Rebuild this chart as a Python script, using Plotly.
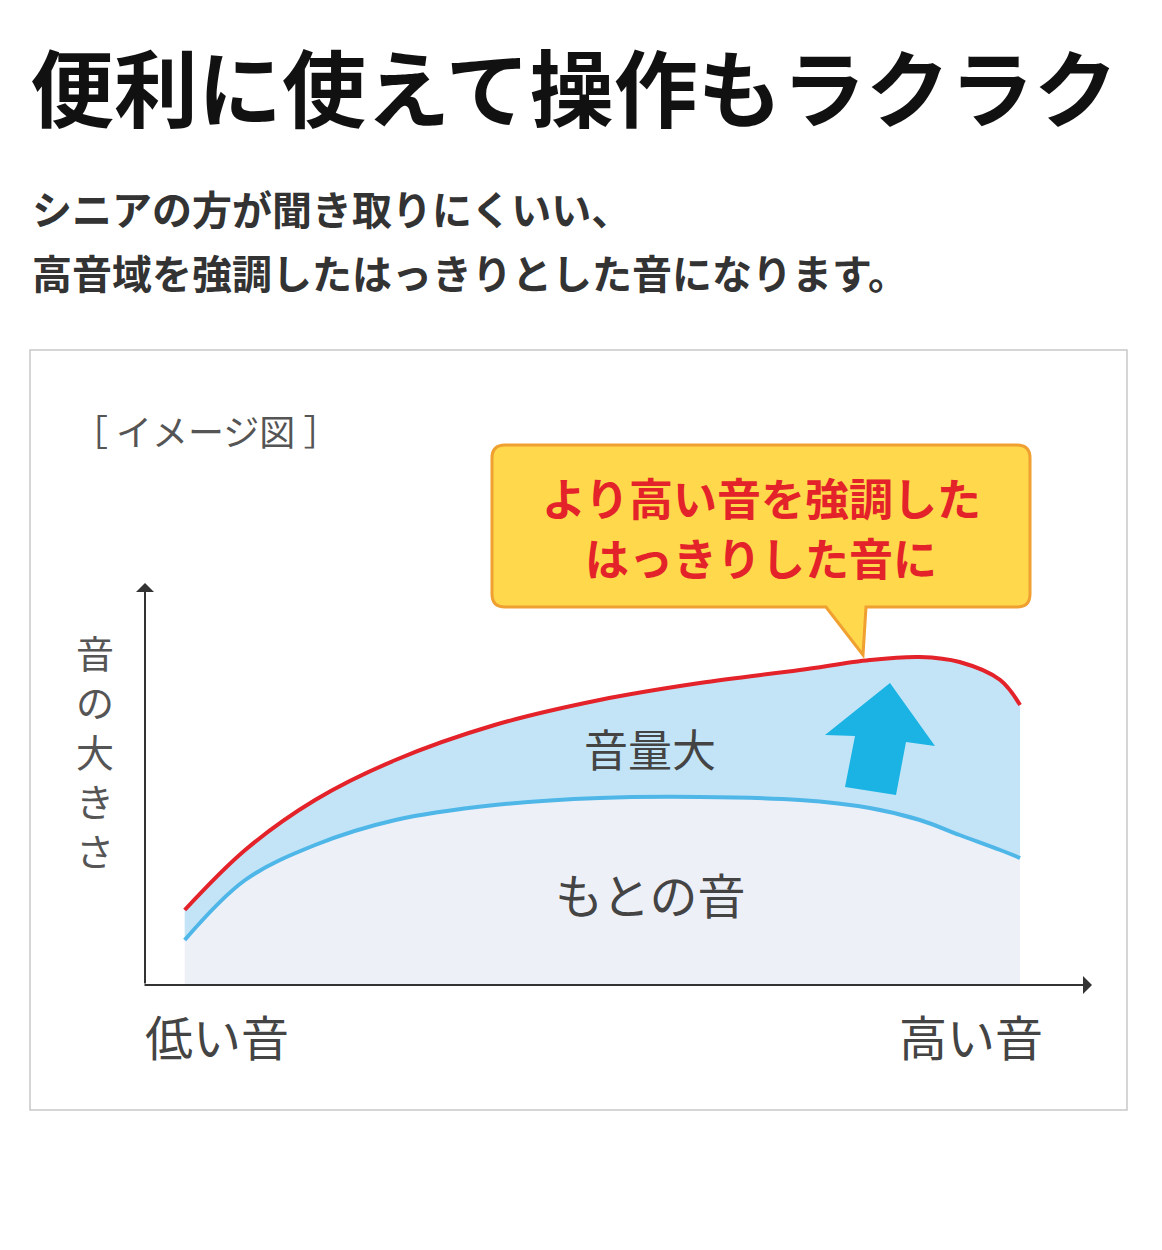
import plotly.graph_objects as go

W, H = 1162, 1250
FONT = "Noto Sans CJK JP"

# data (conceptual frequency index vs loudness)
freq = [4.2, 10.6, 18.0, 26.5, 37.0, 48.1, 58.7, 69.3, 76.7, 82.0, 86.2, 90.5, 92.6]
boosted = [18.75, 33.75, 46.25, 56.25, 65, 71.25, 75.5, 78.75, 81.25, 82, 80.75, 76.25, 70]
original = [11.25, 26.25, 35, 41.25, 45, 46.75, 47, 46.25, 44.25, 41.25, 37.5, 33.75, 31.75]

OFF = 8  # page body margin
def X(px): return (px - OFF) / W
def Y(py): return 1 - (py - OFF) / H

fig = go.Figure()
fig.add_trace(go.Scatter(x=freq, y=[0]*len(freq), mode="lines", line=dict(width=0), showlegend=False, hoverinfo="skip"))
fig.add_trace(go.Scatter(x=freq, y=original, mode="lines", fill="tonexty", fillcolor="#eef0f8",
                         line=dict(color="#4fb6e8", width=4, shape="spline"), showlegend=False))
fig.add_trace(go.Scatter(x=freq, y=boosted, mode="lines", fill="tonexty", fillcolor="#c3e4f7",
                         line=dict(color="#e3222a", width=4, shape="spline"), showlegend=False))

shapes = [
    dict(type="rect", xref="paper", yref="paper", x0=X(30), x1=X(1127), y0=Y(1110), y1=Y(350),
         line=dict(color="#c8c8c8", width=1.5), fillcolor="rgba(0,0,0,0)", layer="below"),
    dict(type="path", xref="paper", yref="paper",
         path=f"M{X(505)},{Y(445)} L{X(1017)},{Y(445)} Q{X(1030)},{Y(445)} {X(1030)},{Y(458)} "
              f"L{X(1030)},{Y(594)} Q{X(1030)},{Y(607)} {X(1017)},{Y(607)} L{X(866)},{Y(607)} "
              f"L{X(863)},{Y(655)} L{X(826)},{Y(607)} L{X(505)},{Y(607)} Q{X(492)},{Y(607)} {X(492)},{Y(594)} "
              f"L{X(492)},{Y(458)} Q{X(492)},{Y(445)} {X(505)},{Y(445)} Z",
         line=dict(color="#f0a030", width=3), fillcolor="#ffd84c"),
    dict(type="path", xref="paper", yref="paper",
         path=f"M{X(890)},{Y(683)} L{X(935)},{Y(746)} L{X(906)},{Y(742)} L{X(896)},{Y(795)} "
              f"L{X(845)},{Y(787)} L{X(855)},{Y(736)} L{X(825)},{Y(735)} Z",
         line=dict(width=0), fillcolor="#1ab3e3"),
]

ann = [
    dict(text="<b>便利に使えて操作もラクラク</b>", x=X(28), y=Y(85), xanchor="left", yanchor="middle",
         font=dict(size=84, color="#111")),
    dict(text="<b>シニアの方が聞き取りにくいい、</b>", x=X(30), y=Y(208), xanchor="left", yanchor="middle",
         font=dict(size=40, color="#333")),
    dict(text="<b>高音域を強調したはっきりとした音になります。</b>", x=X(30), y=Y(272), xanchor="left", yanchor="middle",
         font=dict(size=40, color="#333")),
    dict(text="［ イメージ図 ］", x=X(70), y=Y(430), xanchor="left", yanchor="middle",
         font=dict(size=36, color="#555")),
    dict(text="音<br>の<br>大<br>き<br>さ", x=X(95), y=Y(750), xanchor="center", yanchor="middle",
         font=dict(size=38, color="#555")),
    dict(text="低い音", x=X(143), y=Y(1035), xanchor="left", yanchor="middle", font=dict(size=48, color="#444")),
    dict(text="高い音", x=X(1045), y=Y(1035), xanchor="right", yanchor="middle", font=dict(size=48, color="#444")),
    dict(text="音量大", x=X(650), y=Y(748), xanchor="center", yanchor="middle", font=dict(size=44, color="#444")),
    dict(text="もとの音", x=X(650), y=Y(893), xanchor="center", yanchor="middle", font=dict(size=48, color="#444")),
    dict(text="<b>より高い音を強調した</b>", x=X(761), y=Y(497), xanchor="center", yanchor="middle",
         font=dict(size=44, color="#e3222a")),
    dict(text="<b>はっきりした音に</b>", x=X(761), y=Y(557), xanchor="center", yanchor="middle",
         font=dict(size=44, color="#e3222a")),
    # axes arrows
    dict(x=X(145), y=Y(583), xref="paper", yref="paper", ax=0, ay=402, showarrow=True, arrowhead=1,
         arrowsize=1.5, arrowwidth=2, arrowcolor="#333", text=""),
    dict(x=X(1092), y=Y(985), xref="paper", yref="paper", ax=-949, ay=0, showarrow=True, arrowhead=1,
         arrowsize=1.5, arrowwidth=2, arrowcolor="#333", text=""),
]
for a in ann:
    a.setdefault("xref", "paper"); a.setdefault("yref", "paper"); a.setdefault("showarrow", False)

fig.update_layout(
    width=W, height=H, margin=dict(l=0, r=0, t=0, b=0),
    paper_bgcolor="white", plot_bgcolor="rgba(0,0,0,0)",
    font=dict(family=FONT),
    xaxis=dict(domain=[X(145), X(1090)], range=[0, 100], visible=False, fixedrange=True),
    yaxis=dict(domain=[Y(985), Y(585)], range=[0, 100], visible=False, fixedrange=True),
    shapes=shapes, annotations=ann,
)
fig.write_html("out.html")
